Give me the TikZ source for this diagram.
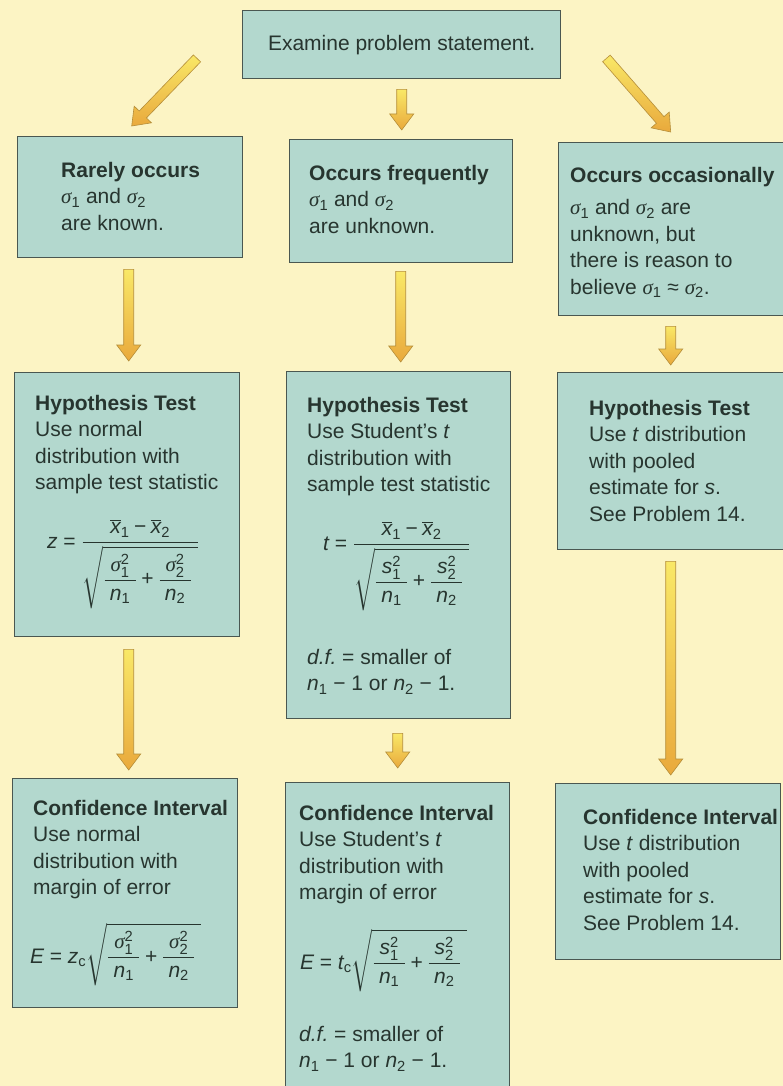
\documentclass[tikz,border=0pt]{standalone}
\usepackage{amsmath}
\usepackage{fontspec}
\setmainfont{Liberation Sans}
\newfontfamily\greekit{Liberation Serif}
\usetikzlibrary{calc}

\definecolor{bgcol}{HTML}{FCF4C4}
\definecolor{boxfill}{HTML}{B3D8CE}
\definecolor{boxdraw}{HTML}{4A5751}
\definecolor{textcol}{HTML}{27352F}
\definecolor{arrowY}{HTML}{F9E867}
\definecolor{arrowO}{HTML}{E9A93C}
\definecolor{arrowD}{HTML}{B58E3A}

\newcommand{\mvar}[1]{\text{\itshape #1}}
\newcommand{\mrm}[1]{\text{#1}}
\newcommand{\msig}{\text{\greekit\itshape σ}}
\newcommand{\xbar}[1]{\overline{\mvar{x}}_{\mrm{#1}}}
\newcommand{\sigsq}[1]{\msig^{\mrm{2}}_{\mrm{#1}}}
\newcommand{\ssq}[1]{\mvar{s}^{\mrm{2}}_{\mrm{#1}}}
\newcommand{\nsub}[1]{\mvar{n}_{\mrm{#1}}}
\newcommand{\padfrac}[2]{\dfrac{\hspace{6pt}#1\hspace{6pt}}{#2}}
\newcommand{\sqend}{\hspace{6pt}}

\newcommand{\fatarrow}[2]{%
  \coordinate (#1-n) at ($(#2)!16pt!(#1)$);
  \shade[fatarrowstyle]
    ($(#1)!5pt!90:(#2)$) -- ($(#1-n)!5pt!90:(#2)$) -- ($(#1-n)!12pt!90:(#2)$) -- (#2)
    -- ($(#1-n)!12pt!-90:(#2)$) -- ($(#1-n)!5pt!-90:(#2)$) -- ($(#1)!5pt!-90:(#2)$) -- cycle;
}

\tikzset{
  box/.style={draw=boxdraw, fill=boxfill, line width=1.4pt, anchor=north west,
    inner sep=0pt, text=textcol, font=\fontsize{21}{26.5}\selectfont},
  txt/.style={text=textcol, align=left, inner sep=0pt, anchor=north west,
    font=\fontsize{21}{26.5}\selectfont\frenchspacing},
  fml/.style={text=textcol, inner sep=0pt, anchor=base west,
    font=\fontsize{21}{26.5}\selectfont},
  fatarrowstyle/.style={top color=arrowY, bottom color=arrowO, draw=arrowD,
    line width=0.6pt, line join=miter},
}

\begin{document}
\begin{tikzpicture}[x=1pt, y=-1pt]
\useasboundingbox (0,0) rectangle (783,1086);
\fill[bgcol] (0,0) rectangle (783,1086);

% boxes
\node[box, minimum width=318pt, minimum height=68pt] (top) at (242,10) {Examine problem statement.};
\node[box, minimum width=225pt, minimum height=121pt] (A) at (17,136) {};
\node[box, minimum width=223pt, minimum height=123pt] (B) at (289,139) {};
\node[box, minimum width=240pt, minimum height=173pt] (C) at (558,142) {};
\node[box, minimum width=225pt, minimum height=264pt] (HA) at (14,372) {};
\node[box, minimum width=224pt, minimum height=347pt] (HB) at (286,371) {};
\node[box, minimum width=240pt, minimum height=177pt] (HC) at (557,372) {};
\node[box, minimum width=225pt, minimum height=229pt] (CA) at (12,778) {};
\node[box, minimum width=224pt, minimum height=306pt] (CB) at (285,782) {};
\node[box, minimum width=225pt, minimum height=176pt] (CC) at (555,783) {};

% row 1 texts
\node[txt] (tA) at ([xshift=44pt,yshift=-26pt]A.north west) {\textbf{Rarely occurs}\\ $\msig_{\mrm{1}}$ and $\msig_{\mrm{2}}$\\ are known.};
\node[txt] (tB) at ([xshift=20pt,yshift=-26pt]B.north west) {\textbf{Occurs frequently}\\ $\msig_{\mrm{1}}$ and $\msig_{\mrm{2}}$\\ are unknown.};
\node[txt] (tC) at ([xshift=12pt,yshift=-25pt]C.north west) {\textbf{Occurs occasionally}\\[6pt] $\msig_{\mrm{1}}$ and $\msig_{\mrm{2}}$ are\\ unknown, but\\ there is reason to\\ believe $\msig_{\mrm{1}}$ ≈ $\msig_{\mrm{2}}$.};

% hypothesis tests
\node[txt] (tHA) at ([xshift=21pt,yshift=-23pt]HA.north west) {\textbf{Hypothesis Test}\\ Use normal\\ distribution with\\ sample test statistic};
\node[fml] (fHA) at ([xshift=33pt,yshift=-176pt]HA.north west)
  {$\mvar{z} \mathrel{\mrm{=}} \dfrac{\xbar{1}\mathbin{\mrm{−}}\xbar{2}}{\sqrt{\padfrac{\sigsq{1}}{\nsub{1}}\mathbin{\mrm{+}}\padfrac{\sigsq{2}}{\nsub{2}}\sqend}}$};

\node[txt] (tHB) at ([xshift=21pt,yshift=-26pt]HB.north west) {\textbf{Hypothesis Test}\\ Use Student's \textit{t}\\ distribution with\\ sample test statistic};
\node[fml] (fHB) at ([xshift=37pt,yshift=-179pt]HB.north west)
  {$\mvar{t} \mathrel{\mrm{=}} \dfrac{\xbar{1}\mathbin{\mrm{−}}\xbar{2}}{\sqrt{\padfrac{\ssq{1}}{\nsub{1}}\mathbin{\mrm{+}}\padfrac{\ssq{2}}{\nsub{2}}\sqend}}$};
\node[txt] (dHB) at ([xshift=21pt,yshift=-278pt]HB.north west) {\textit{d.f.} = smaller of\\ $\nsub{1}$ − 1 or $\nsub{2}$ − 1.};

\node[txt] (tHC) at ([xshift=32pt,yshift=-28pt]HC.north west) {\textbf{Hypothesis Test}\\ Use \textit{t} distribution\\ with pooled\\ estimate for \textit{s}.\\ See Problem 14.};

% confidence intervals
\node[txt] (tCA) at ([xshift=21pt,yshift=-22pt]CA.north west) {\textbf{Confidence Interval}\\ Use normal\\ distribution with\\ margin of error};
\node[fml] (fCA) at ([xshift=18pt,yshift=-185pt]CA.north west)
  {$\mvar{E} \mathrel{\mrm{=}} \mvar{z}_{\mrm{c}}\sqrt{\padfrac{\sigsq{1}}{\nsub{1}}\mathbin{\mrm{+}}\padfrac{\sigsq{2}}{\nsub{2}}\sqend}$};

\node[txt] (tCB) at ([xshift=14pt,yshift=-23pt]CB.north west) {\textbf{Confidence Interval}\\ Use Student's \textit{t}\\ distribution with\\ margin of error};
\node[fml] (fCB) at ([xshift=15pt,yshift=-187pt]CB.north west)
  {$\mvar{E} \mathrel{\mrm{=}} \mvar{t}_{\mrm{c}}\sqrt{\padfrac{\ssq{1}}{\nsub{1}}\mathbin{\mrm{+}}\padfrac{\ssq{2}}{\nsub{2}}\sqend}$};
\node[txt] (dCB) at ([xshift=14pt,yshift=-244pt]CB.north west) {\textit{d.f.} = smaller of\\ $\nsub{1}$ − 1 or $\nsub{2}$ − 1.};

\node[txt] (tCC) at ([xshift=28pt,yshift=-26pt]CC.north west) {\textbf{Confidence Interval}\\ Use \textit{t} distribution\\ with pooled\\ estimate for \textit{s}.\\ See Problem 14.};

% arrow end points
\coordinate (a1s) at ($(top.south west)+(-45,-21)$);
\coordinate (a1e) at ($(A.north)+(1.5,-10)$);
\coordinate (a2s) at ($(top.south)+(0,10)$);
\coordinate (a2e) at ($(B.north)+(0.5,-9)$);
\coordinate (a3s) at ($(top.south east)+(45,-21)$);
\coordinate (a3e) at ($(C.north)+(-8,-10)$);
\coordinate (a4s) at ($(A.south)+(-1.5,11)$);
\coordinate (a4e) at ($(HA.north)+(1.5,-11)$);
\coordinate (a5s) at ($(B.south)+(-0.5,8)$);
\coordinate (a5e) at ($(HB.north)+(2,-9)$);
\coordinate (a6s) at ($(C.south)+(-8,10)$);
\coordinate (a6e) at ($(HC.north)+(-7,-7)$);
\coordinate (a7s) at ($(HA.south)+(1.5,12)$);
\coordinate (a7e) at ($(CA.north)+(3.5,-8)$);
\coordinate (a8s) at ($(HB.south)+(-1,14)$);
\coordinate (a8e) at ($(CB.north)+(0,-14)$);
\coordinate (a9s) at ($(HC.south)+(-7,11)$);
\coordinate (a9e) at ($(CC.north)+(2.5,-8)$);

\fatarrow{a1s}{a1e}
\fatarrow{a2s}{a2e}
\fatarrow{a3s}{a3e}
\fatarrow{a4s}{a4e}
\fatarrow{a5s}{a5e}
\fatarrow{a6s}{a6e}
\fatarrow{a7s}{a7e}
\fatarrow{a8s}{a8e}
\fatarrow{a9s}{a9e}
\end{tikzpicture}
\end{document}
